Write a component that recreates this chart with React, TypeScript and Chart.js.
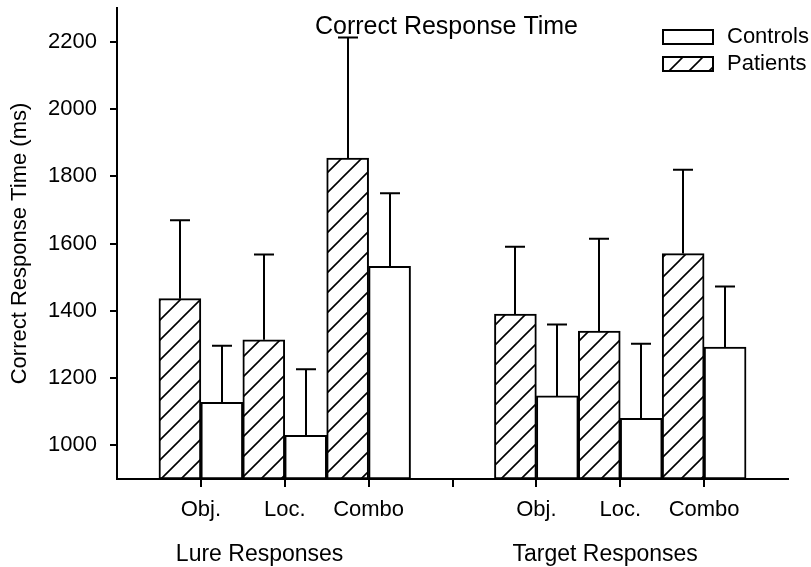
import { useEffect, useRef } from 'react';
import { Chart, registerables } from 'chart.js';

Chart.register(...registerables);

const categories = ['', 'Obj.', 'Loc.', 'Combo', '', 'Obj.', 'Loc.', 'Combo', ''];
const patientMeans = [null, 1436, 1314, 1854, null, 1390, 1340, 1570, null];
const patientSD = [null, 233, 253, 358, null, 200, 274, 249, null];
const controlMeans = [null, 1128, 1030, 1532, null, 1147, 1080, 1292, null];
const controlSD = [null, 168, 196, 217, null, 212, 222, 180, null];
const yTicks = [1000, 1200, 1400, 1600, 1800, 2000, 2200];
const yMin = 900;
const yMax = 2300;
const groupLabels = ['Lure Responses', 'Target Responses'];
const groupCenters = [1.7, 5.82];
const seriesNames = ['Patients', 'Controls'];
const chartTitle = 'Correct Response Time';
const yTitle = 'Correct Response Time (ms)';

const FONT = '"Liberation Sans", Arial, Helvetica, sans-serif';

function makeHatch(ctx: CanvasRenderingContext2D): CanvasPattern | string {
  const s = 20;
  const c = document.createElement('canvas');
  c.width = s;
  c.height = s;
  const g = c.getContext('2d')!;
  g.fillStyle = '#fff';
  g.fillRect(0, 0, s, s);
  g.strokeStyle = '#000';
  g.lineWidth = 1.6;
  g.beginPath();
  g.moveTo(-2, s + 2);
  g.lineTo(s + 2, -2);
  g.moveTo(-2, 2);
  g.lineTo(2, -2);
  g.moveTo(s - 2, s + 2);
  g.lineTo(s + 2, s - 2);
  g.stroke();
  return ctx.createPattern(c, 'repeat') || '#fff';
}

export default function App() {
  const ref = useRef<HTMLCanvasElement>(null);

  useEffect(() => {
    const canvas = ref.current!;
    const ctx0 = canvas.getContext('2d')!;
    const hatch = makeHatch(ctx0);

    const overlay = {
      id: 'overlay',
      afterDatasetsDraw(chart: any) {
        const ctx = chart.ctx as CanvasRenderingContext2D;
        const ys = chart.scales.y;
        const xs = chart.scales.x;
        const area = chart.chartArea;
        const sets: [number, (number | null)[], (number | null)[]][] = [
          [0, patientMeans, patientSD],
          [1, controlMeans, controlSD],
        ];
        ctx.save();
        ctx.strokeStyle = '#000';
        ctx.lineWidth = 2;
        sets.forEach(([di, means, sds]) => {
          const meta = chart.getDatasetMeta(di);
          meta.data.forEach((el: any, i: number) => {
            const m = means[i];
            const sd = sds[i];
            if (m == null || sd == null) return;
            const x = Math.round(el.x);
            const top = ys.getPixelForValue(m);
            const tip = ys.getPixelForValue(m + sd);
            ctx.beginPath();
            ctx.moveTo(x, top);
            ctx.lineTo(x, tip);
            ctx.moveTo(x - 10, tip);
            ctx.lineTo(x + 10, tip);
            ctx.stroke();
          });
        });
        // x-axis tick marks (inner ticks only)
        ctx.beginPath();
        for (let i = 1; i < categories.length - 1; i++) {
          const px = Math.round(xs.getPixelForTick(i));
          ctx.moveTo(px, area.bottom);
          ctx.lineTo(px, area.bottom + 8);
        }
        ctx.stroke();
        ctx.restore();
      },
      afterDraw(chart: any) {
        const ctx = chart.ctx as CanvasRenderingContext2D;
        const area = chart.chartArea;
        const xs = chart.scales.x;
        ctx.save();
        ctx.fillStyle = '#000';
        // title
        ctx.font = `25px ${FONT}`;
        ctx.textAlign = 'center';
        ctx.textBaseline = 'middle';
        ctx.fillText(chartTitle, (area.left + area.right) / 2 - 6, area.top + 19);
        // group labels
        ctx.font = `23px ${FONT}`;
        groupLabels.forEach((g, i) => {
          const px = xs.left + (xs.right - xs.left) * groupCenters[i] / (categories.length - 1);
          ctx.fillText(g, px, area.bottom + 76);
        });
        // legend
        const bx = area.right - 125;
        const entries: [string, CanvasPattern | string][] = [
          [seriesNames[1], '#fff'],
          [seriesNames[0], hatch],
        ];
        entries.forEach(([name, fill], i) => {
          const by = area.top + 22 + i * 27;
          ctx.fillStyle = fill as any;
          ctx.fillRect(bx, by, 50, 14);
          ctx.strokeStyle = '#000';
          ctx.lineWidth = 2;
          ctx.strokeRect(bx, by, 50, 14);
          ctx.fillStyle = '#000';
          ctx.textAlign = 'left';
          ctx.textBaseline = 'middle';
          ctx.font = `22px ${FONT}`;
          ctx.fillText(name, bx + 64, by + 7);
        });
        ctx.restore();
      },
    };

    const chart = new Chart(canvas, {
      type: 'bar',
      data: {
        labels: categories,
        datasets: [
          {
            label: seriesNames[0],
            data: patientMeans as any,
            base: yMin,
            backgroundColor: hatch as any,
            borderColor: '#000',
            borderWidth: 2,
            borderSkipped: false,
            categoryPercentage: 1,
            barPercentage: 1,
          },
          {
            label: seriesNames[1],
            data: controlMeans as any,
            base: yMin,
            backgroundColor: '#fff',
            borderColor: '#000',
            borderWidth: 2,
            borderSkipped: false,
            categoryPercentage: 1,
            barPercentage: 1,
          },
        ],
      },
      options: {
        responsive: false,
        animation: false,
        layout: { padding: { left: 0, right: 23, top: 8, bottom: 0 } },
        plugins: {
          legend: { display: false },
          title: { display: false },
          tooltip: { enabled: false },
        },
        scales: {
          x: {
            type: 'category',
            offset: false,
            border: { display: true, color: '#000', width: 2 },
            grid: {
              offset: false,
              display: true,
              drawOnChartArea: false,
              drawTicks: true,
              tickLength: 8,
              color: 'rgba(0,0,0,0)',
              tickColor: 'rgba(0,0,0,0)',
            },
            ticks: {
              autoSkip: false,
              maxRotation: 0,
              color: '#000',
              padding: 10,
              font: { size: 22, family: FONT },
            },
            afterFit: (s: any) => {
              s.height = 88;
              s.paddingLeft = 0;
              s.paddingRight = 0;
            },
          },
          y: {
            min: yMin,
            max: yMax,
            border: { display: true, color: '#000', width: 2 },
            grid: {
              drawOnChartArea: false,
              drawTicks: true,
              tickLength: 7,
              lineWidth: 2,
              color: '#000',
            },
            ticks: {
              color: '#000',
              padding: 13,
              font: { size: 22, family: FONT },
              callback: (v: any) => String(v),
            },
            afterBuildTicks: (s: any) => {
              s.ticks = yTicks.map((v) => ({ value: v }));
            },
            title: {
              display: true,
              text: yTitle,
              color: '#000',
              font: { size: 22, family: FONT },
              padding: { top: 7, bottom: 0 },
            },
            afterFit: (s: any) => {
              s.width = 117;
              s.paddingTop = 0;
              s.paddingBottom = 0;
            },
          },
        },
      },
      plugins: [overlay],
    });
    return () => chart.destroy();
  }, []);

  return (
    <div style={{ position: 'absolute', left: 0, top: 0, width: 811, height: 567, background: '#fff' }}>
      <canvas ref={ref} width={811} height={567} style={{ display: 'block' }} />
    </div>
  );
}
